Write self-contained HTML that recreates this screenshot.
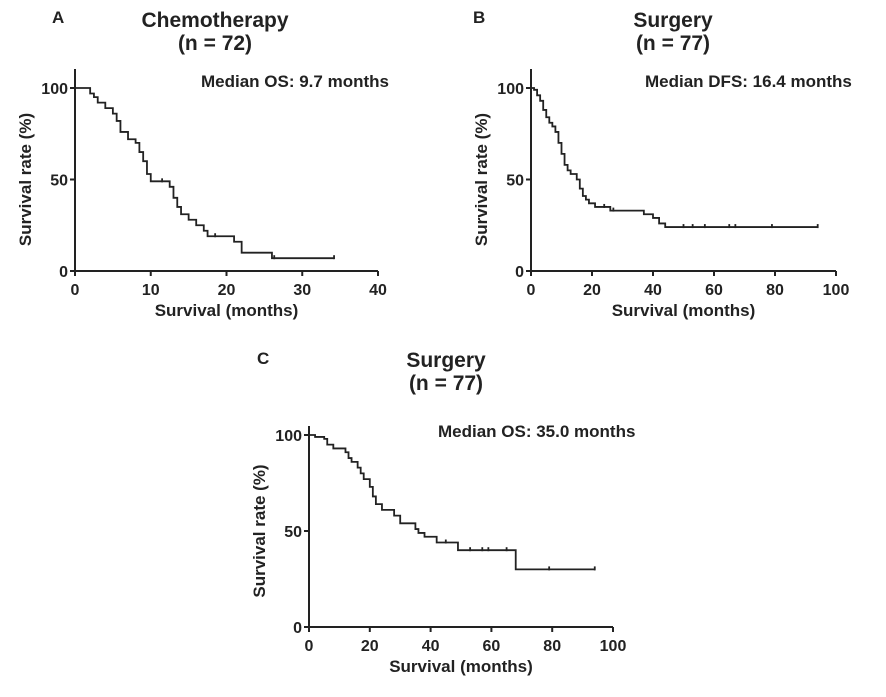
<!DOCTYPE html>
<html><head><meta charset="utf-8"><style>
body{margin:0;background:#fff}
svg{display:block;font-family:"Liberation Sans",Arial,sans-serif;font-weight:bold;fill:#222}
</style></head><body>
<svg id="fig" width="886" height="697" xmlns="http://www.w3.org/2000/svg"></svg>
<script>
// Panel A: chemotherapy OS
const stepsA = [[1.5,100],[2,97],[2.5,95],[3,92],[4,89],[5,86],[5.5,82],[6,76],[7,72],[8,70],[8.5,65],[9,60],[9.5,53],[10,49],[12.5,46],[13,40],[13.5,35],[14,31],[15,28],[16,25],[17,22],[17.5,19],[21,16],[22,10],[26,7]];
const endA = 34.2;
const censorA = [11.5, 18.5, 26.3, 34.2];
// Panel B: surgery DFS
const stepsB = [[1,99],[2,96],[3,93],[4,88],[5,84],[6,81],[7,79],[8,76],[9,70],[10,64],[11,58],[12,55],[13,53],[15,50],[16,45],[17,41],[18,39],[19,37],[21,35],[26,33],[37,31],[40,29],[42,26],[44,24]];
const endB = 94;
const censorB = [24,27,50,53,57,65,67,79,94];
// Panel C: surgery OS
const stepsC = [[2,99],[5,98],[6,95],[8,93],[12,91],[13,88],[14,86],[16,83],[17,80],[18,77],[20,73],[21,68],[22,64],[24,61],[28,58],[30,54],[35,51],[36,49],[38,47],[42,44],[49,40],[68,30]];
const endC = 94;
const censorC = [45,53,57,59,65,79,94];
const ticksA = [0,10,20,30,40], ticksB = [0,20,40,60,80,100], ticksY = [0,50,100];

const NS = "http://www.w3.org/2000/svg";
const svg = document.getElementById('fig');
function el(tag, attrs, parent){const e=document.createElementNS(NS,tag);for(const k in attrs)e.setAttribute(k,attrs[k]);(parent||svg).appendChild(e);return e;}
function txt(s, attrs, parent){const e=el('text',attrs,parent);e.textContent=s;return e;}

function panel(o){
  const g = el('g',{});
  
  
  const X = v => o.x0 + (o.x1-o.x0)*v/o.xmax;
  const Y = v => o.y0 + (o.y100-o.y0)*v/100;
  const ax = el('path',{d:`M${o.x0},${o.ytop} V${o.y0} H${o.x1}`,stroke:'#222','stroke-width':2,fill:'none'},g);
  
  
  o.xticks.forEach(t=>{
    el('line',{x1:X(t),x2:X(t),y1:o.y0,y2:o.y0+5,stroke:'#222','stroke-width':2},g);
    const l=txt(String(t),{x:X(t),y:o.y0+24,'text-anchor':'middle','font-size':16},g);
    
    
  });
  ticksY.forEach(t=>{
    el('line',{x1:o.x0-5,x2:o.x0,y1:Y(t),y2:Y(t),stroke:'#222','stroke-width':2},g);
    const l=txt(String(t),{x:o.x0-7,y:Y(t)+6,'text-anchor':'end','font-size':16},g);
    
    
  });
  const xt=txt('Survival (months)',{x:(o.x0+o.x1)/2,y:o.y0+45,'text-anchor':'middle','font-size':17},g);
  
  
  const cy=(o.y0+o.y100)/2;
  const yt=txt('Survival rate (%)',{x:o.x0-44,y:cy,'text-anchor':'middle','font-size':17,transform:`rotate(-90 ${o.x0-44} ${cy})`},g);
  
  
  let d=`M${X(0)},${Y(100)}`;
  o.steps.forEach(([t,s])=>{d+=` H${X(t)} V${Y(s)}`;});
  d+=` H${X(o.end)}`;
  const c=el('path',{d,stroke:'#222','stroke-width':1.8,fill:'none'},g);
  
  
  o.censor.forEach(t=>{
    let s=100; o.steps.forEach(([tt,ss])=>{if(tt<=t)s=ss;});
    const m=el('line',{x1:X(t),x2:X(t),y1:Y(s)-3,y2:Y(s)+1,stroke:'#222','stroke-width':1.8},g);
    
    
  });
  const lab=txt(o.letter,{x:o.lx,y:o.ly,'font-size':17},g);
  
  
  const t1=txt(o.title,{x:o.tx,y:o.ty,'text-anchor':'middle','font-size':21},g);
  
  
  const t2=txt(o.nlabel,{x:o.tx,y:o.ty+23,'text-anchor':'middle','font-size':21},g);
  
  
  const md=txt(o.median,{x:o.mx,y:o.my,'font-size':17},g);
  
  
}
panel({id:'panel-a',x0:75,x1:378,xmax:40,y0:271,y100:88,ytop:69,xticks:ticksA,steps:stepsA,end:endA,censor:censorA,letter:'A',lx:52,ly:23,title:'Chemotherapy',tx:215,ty:27,nlabel:'(n = 72)',median:'Median OS: 9.7 months',mx:201,my:87});
panel({id:'panel-b',x0:531,x1:836,xmax:100,y0:271,y100:88,ytop:69,xticks:ticksB,steps:stepsB,end:endB,censor:censorB,letter:'B',lx:473,ly:23,title:'Surgery',tx:673,ty:27,nlabel:'(n = 77)',median:'Median DFS: 16.4 months',mx:645,my:87});
panel({id:'panel-c',x0:309,x1:613,xmax:100,y0:627,y100:435,ytop:426,xticks:ticksB,steps:stepsC,end:endC,censor:censorC,letter:'C',lx:257,ly:364,title:'Surgery',tx:446,ty:367,nlabel:'(n = 77)',median:'Median OS: 35.0 months',mx:438,my:437});
</script>
</body></html>
